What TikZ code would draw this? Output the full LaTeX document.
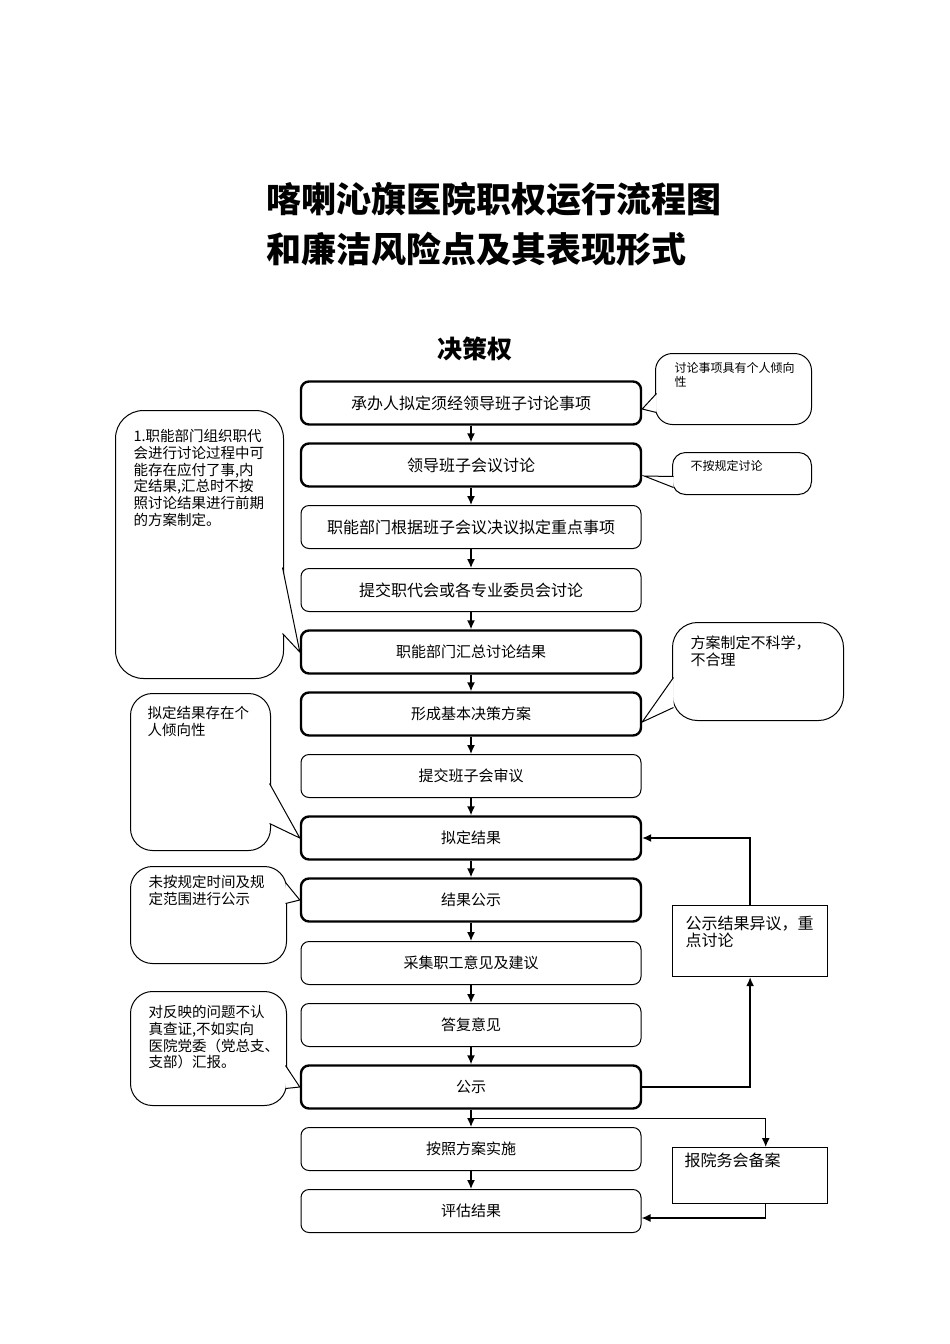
\documentclass[tikz,border=0pt]{standalone}
\usepackage{fontspec}
\setmainfont{Noto Sans CJK SC}
\usetikzlibrary{shapes,arrows.meta,positioning,calc}

\newcommand{\calltext}[3]{\parbox[c][#2pt][t]{#1pt}{\raggedright #3}}

\tikzset{
  stepbox/.style={draw, rectangle, rounded corners=8pt, minimum width=340pt, minimum height=43pt, line width=1pt, font=\fontsize{15}{18}\selectfont},
  bigtext/.style={font=\fontsize{16}{19}\selectfont},
  heavy/.style={line width=2.4pt},
  bubble/.style={draw, rectangle, rounded corners=22pt, fill=white, line width=1pt, anchor=north west, font=\fontsize{14.5}{16.7}\selectfont},
  tail/.style={fill=white, line width=1pt},
  notebox/.style={draw, rectangle, line width=1.2pt, anchor=north west, font=\fontsize{16}{17}\selectfont},
  flow/.style={-{Latex[length=9pt,width=8pt]}, line width=1.4pt}
}

\begin{document}
\begin{tikzpicture}[x=1pt, y=-1pt]
				\useasboundingbox (0,0) rectangle (950,1344);
				
				% Title
				\node[anchor=west, align=left, font=\fontsize{35}{50}\selectfont\bfseries] (title) at (263,224) {喀喇沁旗医院职权运行流程图\\和廉洁风险点及其表现形式};
				\node[font=\fontsize{25}{30}\selectfont\bfseries] (power) at (475,349) {决策权};
				
				% Main flow
				\node[stepbox, heavy, bigtext] (s1) at (471,403) {承办人拟定须经领导班子讨论事项};
				\node[stepbox, heavy, bigtext] (s2) at (471,465) {领导班子会议讨论};
				\node[stepbox, bigtext] (s3) at (471,527) {职能部门根据班子会议决议拟定重点事项};
				\node[stepbox, bigtext] (s4) at (471,590) {提交职代会或各专业委员会讨论};
				\node[stepbox, heavy] (s5) at (471,652) {职能部门汇总讨论结果};
				\node[stepbox, heavy] (s6) at (471,714) {形成基本决策方案};
				\node[stepbox] (s7) at (471,776) {提交班子会审议};
				\node[stepbox, heavy] (s8) at (471,838) {拟定结果};
				\node[stepbox, heavy] (s9) at (471,900) {结果公示};
				\node[stepbox] (s10) at (471,963) {采集职工意见及建议};
				\node[stepbox] (s11) at (471,1025) {答复意见};
				\node[stepbox, heavy] (s12) at (471,1087) {公示};
				\node[stepbox] (s13) at (471,1149) {按照方案实施};
				\node[stepbox] (s14) at (471,1211) {评估结果};
				
				% Side boxes
				\node[notebox, inner xsep=13pt, inner ysep=10pt] (r1) at (672,905) {\calltext{129}{51}{公示结果异议，重\\点讨论}};
				\node[notebox, inner xsep=12pt, inner ysep=5pt] (r2) at (672,1147) {\calltext{131}{46}{报院务会备案}};
				
				% Risk bubbles
				\node[bubble, rounded corners=17pt, inner xsep=19pt, inner ysep=9pt, font=\fontsize{12}{14}\selectfont] (b1) at (655,353) {\calltext{118}{53}{讨论事项具有个人倾向\\性}};
				\node[bubble, rounded corners=13pt, inner xsep=18pt, inner ysep=8pt, font=\fontsize{12}{14}\selectfont] (b2) at (672,452) {\calltext{103}{26}{不按规定讨论}};
				\node[bubble, rounded corners=25pt, inner xsep=18pt, inner ysep=13pt, font=\fontsize{15}{17}\selectfont] (b3) at (672,622) {\calltext{135}{72}{方案制定不科学，\\不合理}};
				\node[bubble, rounded corners=28pt, inner xsep=18pt, inner ysep=19pt] (b4) at (115,410) {\calltext{132}{230}{1.职能部门组织职代\\会进行讨论过程中可\\能存在应付了事,内\\定结果,汇总时不按\\照讨论结果进行前期\\的方案制定。}};
				\node[bubble, inner xsep=17pt, inner ysep=13pt] (b5) at (130,693) {\calltext{106}{131}{拟定结果存在个\\人倾向性}};
				\node[bubble, inner xsep=18pt, inner ysep=9pt] (b6) at (130,866) {\calltext{120}{79}{未按规定时间及规\\定范围进行公示}};
				\node[bubble, inner xsep=18pt, inner ysep=14pt] (b7) at (130,991) {\calltext{120}{86}{对反映的问题不认\\真查证,不如实向\\医院党委（党总支、\\支部）汇报。}};
				
				% Bubble pointers
				\draw[tail] ($(b1.west)+(1.5,4.5)$) -- ($(s1.east)+(0,6)$) -- ($(b1.west)+(1.5,23.5)$);
				\draw[tail] ($(b2.west)+(1.5,3)$) -- ($(s2.east)+(2,11)$) -- ($(b2.west)+(1.5,14)$);
				\draw[tail] ($(b3.west)+(1.5,6)$) -- ($(s6.east)+(0,8)$) -- ($(b3.west)+(1.5,36)$);
				\draw[tail] ($(b4.east)+(-1.5,23)$) -- (s5.west) -- ($(b4.east)+(-1.5,89)$);
				\draw[tail] ($(b5.east)+(-1.5,11.5)$) -- (s8.west) -- ($(b5.east)+(-1.5,51.5)$);
				\draw[tail] ($(b6.east)+(-1.5,-32.5)$) -- (s9.west) -- ($(b6.east)+(-1.5,-11.5)$);
				\draw[tail] ($(b7.east)+(-1.5,17)$) -- (s12.west) -- ($(b7.east)+(-1.5,40)$);
				
				% Connections
				\draw[flow] (s1) -- (s2);
				\draw[flow] (s2) -- (s3);
				\draw[flow] (s3) -- (s4);
				\draw[flow] (s4) -- (s5);
				\draw[flow] (s5) -- (s6);
				\draw[flow] (s6) -- (s7);
				\draw[flow] (s7) -- (s8);
				\draw[flow] (s8) -- (s9);
				\draw[flow] (s9) -- (s10);
				\draw[flow] (s10) -- (s11);
				\draw[flow] (s11) -- (s12);
				\draw[flow] (s12) -- (s13);
				\draw[flow] (s13) -- (s14);
				\coordinate (split) at ($(s12.south)!0.5!(s13.north)$);
				\draw[flow] (r1.north) |- (s8.east);
				\draw[flow] (s12.east) -| (r1.south);
				\draw[flow] (split) -| ($(r2.north west)!0.6!(r2.north east)$);
				\draw[flow] ($(r2.south west)!0.6!(r2.south east)$) |- ($(s14.east)+(0,7)$);
			\end{tikzpicture}
\end{document}
